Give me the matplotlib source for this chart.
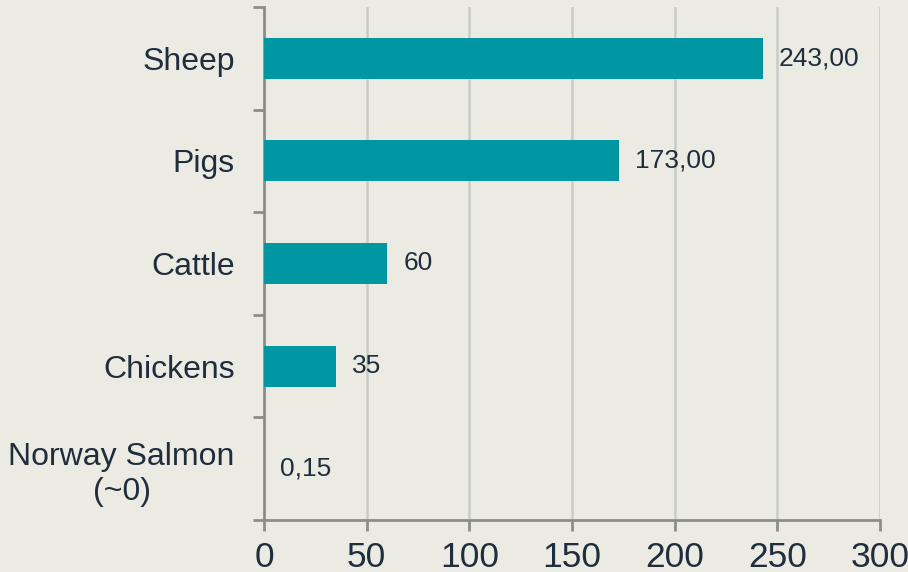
import matplotlib.pyplot as plt
import numpy as np

categories = ['Sheep', 'Pigs', 'Cattle', 'Chickens', 'Norway Salmon\n(~0)']
values = [243, 173, 60, 35, 0.15]
value_labels = ['243,00', '173,00', '60', '35', '0,15']
xticks = [0, 50, 100, 150, 200, 250, 300]

bg = '#EBEBE3'
bar_color = '#0097A3'
text_color = '#1F2D3D'
axis_color = '#8C8C8C'

plt.rcParams['font.family'] = ['Liberation Sans', 'DejaVu Sans']

fig = plt.figure(figsize=(9.08, 5.72), dpi=100, facecolor=bg)
ax = fig.add_axes([0.2907, 0.0909, 0.6785, 0.8969], facecolor=bg)

y = np.arange(len(categories))
ax.barh(y, values, height=0.4, color=bar_color, zorder=3)

for yi, v, lab in zip(y, values, value_labels):
    ax.annotate(lab, (v, yi), xytext=(11.5, 0), textcoords='offset points',
                ha='left', va='center', fontsize=19, color=text_color)

ax.set_xlim(0, 300)
ax.set_ylim(len(categories) - 0.5, -0.5)
ax.set_xticks(xticks)
ax.set_xticklabels([str(t) for t in xticks], fontsize=25.5, color=text_color)
ax.xaxis.grid(True, color='#C9CCC6', linewidth=1.8, zorder=0)

ax.set_yticks(np.arange(len(categories) + 1) - 0.5)
ax.set_yticklabels([])
ax.set_yticks(y, minor=True)
ax.set_yticklabels(categories, minor=True, fontsize=23, color=text_color)
ax.tick_params(axis='y', which='minor', length=0, pad=21)
ax.tick_params(axis='y', which='major', length=8, width=2, color=axis_color)
ax.tick_params(axis='x', length=8, width=2, color=axis_color, pad=7)
for lab in ax.get_yticklabels(minor=True):
    lab.set_horizontalalignment('right')
    lab.set_multialignment('center')

for s in ['top', 'right']:
    ax.spines[s].set_visible(False)
for s in ['left', 'bottom']:
    ax.spines[s].set_color(axis_color)
    ax.spines[s].set_linewidth(2)

fig.savefig('out.png', dpi=100, facecolor=bg)
